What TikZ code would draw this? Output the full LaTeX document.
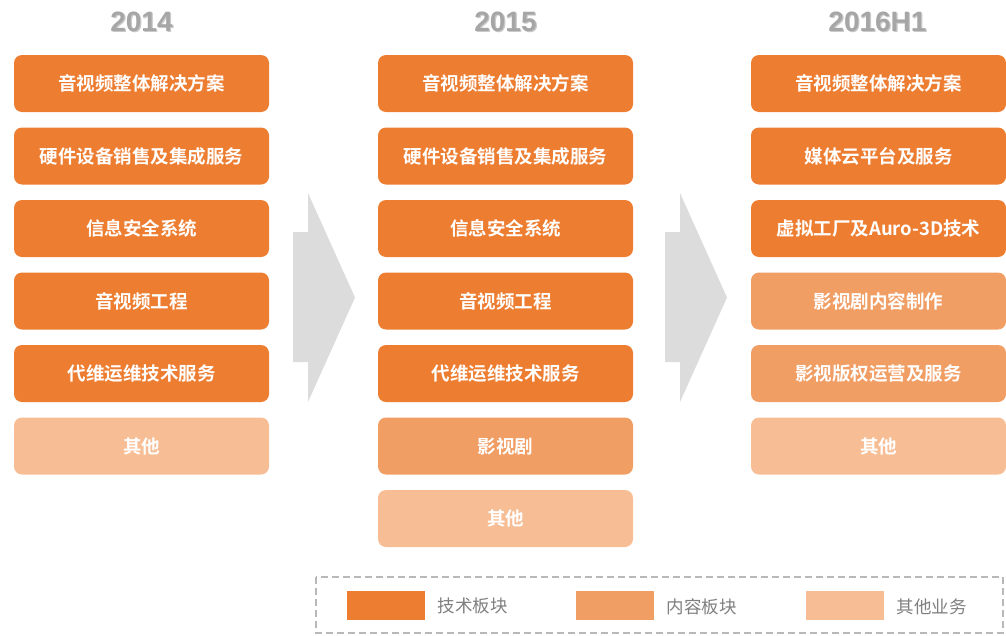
\documentclass[tikz,border=0pt]{standalone}
\usepackage{fontspec}
\setmainfont{Liberation Sans}
\newfontfamily\cjkb{Noto Sans CJK SC}[BoldFont={* Bold}]
\newfontfamily\cjk{Noto Sans CJK SC}
\definecolor{tech}{HTML}{ED7D31}
\definecolor{cont}{HTML}{F19E65}
\definecolor{other}{HTML}{F7BE95}
\definecolor{hdr}{HTML}{A6A6A6}
\definecolor{legtxt}{HTML}{7F7F7F}
\definecolor{arrowgray}{HTML}{DCDCDC}
\begin{document}
\begin{tikzpicture}[x=1pt,y=-1pt,
  box/.style={rounded corners=8pt,minimum width=255pt,minimum height=57pt,inner sep=0pt,
    text=white,font=\cjkb\bfseries\fontsize{18.5}{21}\selectfont},
  techbox/.style={box,fill=tech},
  contbox/.style={box,fill=cont},
  otherbox/.style={box,fill=other},
  year/.style={font=\bfseries\fontsize{28}{30}\selectfont,text=hdr},
  yearshadow/.style={font=\bfseries\fontsize{28}{30}\selectfont,text=hdr!60},
  swatch/.style={minimum width=78pt,minimum height=29pt,inner sep=0pt},
  legtext/.style={font=\cjk\fontsize{17.5}{20}\selectfont,text=legtxt,anchor=west},
  bigarrow/.style={fill=arrowgray,draw=none}]
\useasboundingbox (0,0) rectangle (1006,635);
% headers
\foreach \x/\t/\n in {141.5/2014/ya,505.5/2015/yb,877.5/2016H1/yc}{
  \node[yearshadow] at (\x+1.2,23.2) {\t};
  \node[year] (\n) at (\x,22) {\t};
}
% column 1
\node[techbox] (a1) at (141.5,83.5) {音视频整体解决方案};
\node[techbox] (a2) at (141.5,156) {硬件设备销售及集成服务};
\node[techbox] (a3) at (141.5,228.5) {信息安全系统};
\node[techbox] (a4) at (141.5,301) {音视频工程};
\node[techbox] (a5) at (141.5,373.5) {代维运维技术服务};
\node[otherbox] (a6) at (141.5,446) {其他};
% column 2
\node[techbox] (b1) at (505.5,83.5) {音视频整体解决方案};
\node[techbox] (b2) at (505.5,156) {硬件设备销售及集成服务};
\node[techbox] (b3) at (505.5,228.5) {信息安全系统};
\node[techbox] (b4) at (505.5,301) {音视频工程};
\node[techbox] (b5) at (505.5,373.5) {代维运维技术服务};
\node[contbox] (b6) at (505.5,446) {影视剧};
\node[otherbox] (b7) at (505.5,518.5) {其他};
% column 3
\node[techbox] (c1) at (878.5,83.5) {音视频整体解决方案};
\node[techbox] (c2) at (878.5,156) {媒体云平台及服务};
\node[techbox] (c3) at (878.5,228.5) {虚拟工厂及Auro-3D技术};
\node[contbox] (c4) at (878.5,301) {影视剧内容制作};
\node[contbox] (c5) at (878.5,373.5) {影视版权运营及服务};
\node[otherbox] (c6) at (878.5,446) {其他};
% arrows
\fill[bigarrow] (293,232) -- (308,232) -- (308,193) -- (355,297.5) -- (308,402) -- (308,362) -- (293,362) -- cycle;
\fill[bigarrow] (665,232) -- (680,232) -- (680,193) -- (727,297.5) -- (680,402) -- (680,362) -- (665,362) -- cycle;
% legend
\draw[draw=black!28,line width=1.3pt,dash pattern=on 7pt off 4pt] (316,577) rectangle (1003,633);
\node[swatch,fill=tech] (l1) at (386,605.5) {};
\node[legtext] (t1) at (434,605.5) {技术板块};
\node[swatch,fill=cont] (l2) at (615,605.5) {};
\node[legtext] (t2) at (663,607) {内容板块};
\node[swatch,fill=other] (l3) at (845,605.5) {};
\node[legtext] (t3) at (893,607) {其他业务};
\end{tikzpicture}
\end{document}
